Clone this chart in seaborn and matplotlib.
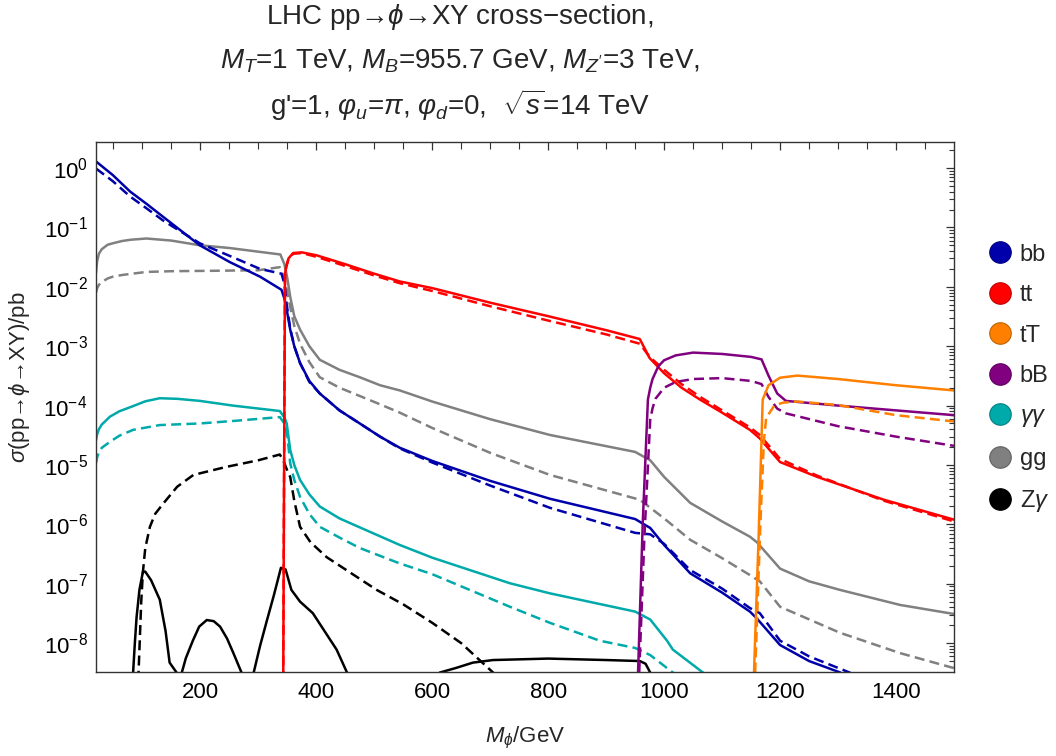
import matplotlib
matplotlib.use('Agg')
import matplotlib.pyplot as plt
import matplotlib.colors as mcolors
import numpy as np
import pandas as pd
import seaborn as sns
from matplotlib.lines import Line2D
from matplotlib.ticker import FixedLocator, LogLocator, NullFormatter

# ---- data (M_phi in GeV, sigma in pb) ----
BB_M = [20, 49, 79, 107, 136, 199, 251, 303, 340, 345, 349, 355, 362, 372, 388, 406, 440, 475, 510,
        544, 600, 700, 803, 950, 976, 1000, 1045, 1100, 1148, 1160, 1200, 1250, 1304, 1320]
BB_SOLID = [1.29, 0.76, 0.40, 0.25, 0.15, 0.050, 0.026, 0.0148, 0.0089, 0.0063, 0.0041, 0.0019,
            0.0010, 5.2e-4, 2.6e-4, 1.6e-4, 8.3e-5, 5.0e-5, 3.0e-5, 1.95e-5, 1.17e-5, 5.4e-6,
            2.7e-6, 1.23e-6, 8.7e-7, 4.5e-7, 1.5e-7, 7.1e-8, 3.4e-8, 2.6e-8, 9.3e-9, 5.0e-9,
            3.2e-9, 2.5e-9]
BB_DASH_M = [20, 49, 79, 107, 136, 199, 251, 303, 340, 345, 349, 355, 362, 372, 388, 406, 440, 475,
             510, 544, 600, 700, 803, 950, 976, 1000, 1045, 1100, 1148, 1165, 1200, 1250, 1320, 1340]
BB_DASH = [0.98, 0.60, 0.33, 0.21, 0.13, 0.054, 0.033, 0.020, 0.0166, 0.0112, 0.0050, 0.0020,
           0.0010, 5.2e-4, 2.5e-4, 1.6e-4, 8.3e-5, 5.0e-5, 3.0e-5, 1.9e-5, 1.1e-5, 4.5e-6,
           1.9e-6, 7.2e-7, 6.8e-7, 4.7e-7, 1.7e-7, 8.3e-8, 3.9e-8, 3.2e-8, 1.1e-8, 6.0e-9,
           3.2e-9, 2.5e-9]

TT_M = [341, 343, 344.5, 346, 348, 352, 360, 375, 400, 450, 500, 544, 600, 700, 800, 900, 958,
        975, 1000, 1030, 1062, 1100, 1148, 1165, 1200, 1264, 1379, 1500]
TT_SOLID = [1e-10, 3.2e-9, 1e-5, 0.0158, 0.022, 0.030, 0.037, 0.038, 0.034, 0.024, 0.0166,
            0.0123, 0.0095, 0.0054, 0.0032, 0.00186, 0.00132, 6.3e-4, 3.5e-4, 2.0e-4, 1.26e-4,
            7.6e-5, 3.9e-5, 2.8e-5, 1.12e-5, 6.3e-6, 2.6e-6, 1.2e-6]
TT_DASH = [1e-10, 3.2e-9, 1e-5, 0.0151, 0.021, 0.029, 0.036, 0.037, 0.032, 0.0224, 0.0155,
           0.0115, 0.0085, 0.0047, 0.0027, 0.00158, 0.0011, 6.6e-4, 4.0e-4, 2.3e-4, 1.4e-4,
           8.3e-5, 4.3e-5, 3.2e-5, 1.26e-5, 6.6e-6, 2.5e-6, 1.12e-6]

TBIG_M = [1155, 1163, 1170, 1180, 1200, 1230, 1300, 1400, 1500]
TBIG_SOLID = [3.2e-9, 6.3e-7, 1.26e-4, 2.2e-4, 2.95e-4, 3.2e-4, 2.8e-4, 2.2e-4, 1.8e-4]
TBIG_DASH_M = [1157, 1166, 1172, 1176, 1190, 1205, 1230, 1300, 1400, 1500]
TBIG_DASH = [3.2e-9, 1e-6, 2.5e-5, 6.2e-5, 1.0e-4, 1.12e-4, 1.17e-4, 1.02e-4, 6.9e-5, 5.4e-5]

BBIG_M = [955, 963, 972, 976, 980, 990, 1000, 1020, 1050, 1100, 1150, 1168, 1180, 1195, 1210, 1300,
          1400, 1500]
BBIG_SOLID = [3.2e-9, 1e-6, 1.26e-4, 2.0e-4, 2.8e-4, 4.6e-4, 5.8e-4, 7.0e-4, 7.8e-4, 7.4e-4,
              6.6e-4, 6.0e-4, 3.2e-4, 1.6e-4, 1.2e-4, 1.0e-4, 8.3e-5, 6.9e-5]
BBIG_DASH_M = [957, 966, 976, 980, 985, 1000, 1020, 1050, 1100, 1150, 1168, 1180, 1195, 1210, 1300,
               1400, 1500]
BBIG_DASH = [3.2e-9, 6.3e-7, 5.8e-5, 9.0e-5, 1.3e-4, 2.0e-4, 2.5e-4, 2.8e-4, 2.9e-4, 2.6e-4,
             2.3e-4, 1.4e-4, 8.9e-5, 7.4e-5, 4.5e-5, 3.0e-5, 2.1e-5]

AA_M = [20, 22, 25, 30, 44, 60, 84, 105, 130, 160, 199, 256, 337, 345, 349, 355, 362, 372, 388, 406,
        440, 475, 510, 544, 600, 734, 803, 950, 976, 1005, 1015, 1067, 1080]
AA_SOLID = [2.6e-5, 3.3e-5, 4.0e-5, 4.8e-5, 6.5e-5, 8.0e-5, 9.8e-5, 1.18e-4, 1.33e-4, 1.3e-4,
            1.2e-4, 1.0e-4, 8.1e-5, 6.3e-5, 5.0e-5, 1.8e-5, 1.0e-5, 5.6e-6, 3.2e-6, 2.0e-6,
            1.26e-6, 8.9e-7, 6.3e-7, 4.5e-7, 2.75e-7, 1.02e-7, 6.9e-8, 3.4e-8, 2.5e-8, 1.1e-8,
            7.8e-9, 3.2e-9, 2.5e-9]
AA_DASH_M = [20, 22, 25, 30, 44, 60, 84, 130, 199, 256, 337, 345, 349, 355, 362, 372, 388, 406, 440,
             475, 510, 544, 600, 734, 803, 889, 950, 976, 1015, 1030]
AA_DASH = [1.07e-5, 1.35e-5, 1.65e-5, 1.95e-5, 2.45e-5, 3.1e-5, 3.9e-5, 4.7e-5, 5.0e-5, 5.5e-5,
           6.4e-5, 5.0e-5, 3.9e-5, 1.07e-5, 5.6e-6, 2.9e-6, 1.5e-6, 9.1e-7, 6.0e-7, 4.0e-7,
           2.95e-7, 2.2e-7, 1.45e-7, 4.1e-8, 2.2e-8, 1.1e-8, 8.3e-9, 6.3e-9, 3.2e-9, 2.5e-9]

GG_M = [20, 22, 25, 30, 40, 49, 65, 80, 107, 150, 199, 250, 300, 338, 345, 350, 355, 362, 372, 388,
        406, 440, 475, 510, 544, 600, 700, 803, 950, 976, 1000, 1045, 1100, 1148, 1160, 1200, 1250,
        1303, 1407, 1500]
GG_SOLID = [0.017, 0.027, 0.036, 0.043, 0.051, 0.054, 0.059, 0.062, 0.065, 0.060, 0.050, 0.045,
            0.039, 0.035, 0.024, 0.014, 0.0068, 0.0032, 0.0019, 0.0010, 5.9e-4, 4.0e-4, 3.0e-4,
            2.2e-4, 1.8e-4, 1.17e-4, 5.9e-5, 3.2e-5, 1.66e-5, 1.2e-5, 6.3e-6, 2.3e-6, 1.12e-6,
            6.2e-7, 5.0e-7, 1.8e-7, 1.1e-7, 7.9e-8, 4.4e-8, 3.1e-8]
GG_DASH_M = [20, 22, 25, 30, 40, 49, 65, 80, 107, 150, 222, 300, 337, 345, 350, 355, 362, 372, 388,
             406, 440, 475, 510, 544, 600, 700, 803, 958, 1000, 1045, 1100, 1148, 1165, 1200, 1303,
             1407, 1500]
GG_DASH = [0.008, 0.0095, 0.0108, 0.012, 0.0138, 0.0148, 0.0158, 0.0165, 0.0178, 0.0183, 0.0186,
           0.019, 0.0214, 0.014, 0.008, 0.0046, 0.0022, 0.0011, 5.4e-4, 3.0e-4, 2.0e-4, 1.45e-4,
           1.05e-4, 7.6e-5, 4.2e-5, 1.6e-5, 6.8e-6, 2.6e-6, 1.26e-6, 5.5e-7, 2.7e-7, 1.4e-7,
           1.1e-7, 4.1e-8, 1.5e-8, 6.8e-9, 3.8e-9]

ZA_M = [82, 84, 87, 90, 95, 101, 105, 115, 130, 140, 147, 159, 162, 166, 168, 175, 187, 198, 211,
        223, 234, 246, 257, 271, 275, 288, 292, 303, 315, 327, 339, 347, 357, 372, 394, 435, 453,
        458, 605, 613, 640, 670, 705, 800, 900, 958, 968, 976, 980]
ZA_SOLID = [1e-10, 3.2e-9, 1e-8, 2.75e-8, 8e-8, 1.6e-7, 1.6e-7, 1.15e-7, 5.4e-8, 1.6e-8, 4.7e-9,
            3.2e-9, 1e-10, 1e-10, 3.2e-9, 5.6e-9, 1.1e-8, 1.9e-8, 2.45e-8, 2.35e-8, 1.9e-8, 1.2e-8,
            6.8e-9, 3.2e-9, 1e-10, 1e-10, 3.2e-9, 9e-9, 2.45e-8, 6.5e-8, 1.86e-7, 1.74e-7, 7.9e-8,
            5.0e-8, 3.2e-8, 7.8e-9, 3.2e-9, 1e-10, 1e-10, 3.2e-9, 3.8e-9, 4.7e-9, 5.2e-9, 5.5e-9,
            5.2e-9, 5.0e-9, 4.5e-9, 3.2e-9, 1e-10]
ZA_DASH_M = [90, 93, 96, 98, 101, 105, 113, 122, 136, 160, 188, 245, 300, 337, 343, 350, 355, 362,
             372, 390, 418, 504, 550, 600, 650, 705, 720]
ZA_DASH = [1e-10, 2.5e-9, 1.5e-8, 5e-8, 1.6e-7, 4e-7, 9.1e-7, 1.5e-6, 2.24e-6, 4.3e-6, 6.8e-6,
           9.3e-6, 1.2e-5, 1.5e-5, 1.2e-5, 8e-6, 6.3e-6, 2.5e-6, 9.1e-7, 5.0e-7, 2.8e-7, 7.9e-8,
           4.5e-8, 2.2e-8, 1.0e-8, 3.2e-9, 1e-10]

X_TICKS = [200, 400, 600, 800, 1000, 1200, 1400]
X_MINOR = list(range(50, 1500, 50))
Y_DECADES = [1e-8, 1e-7, 1e-6, 1e-5, 1e-4, 1e-3, 1e-2, 1e-1, 1e0]

CHANNELS = ['bb', 'tt', 'tT', 'bB', 'γγ', 'gg', 'Zγ']
LEGEND_LABELS = ['bb', 'tt', 'tT', 'bB', r'$\gamma\gamma$', 'gg', r'Z$\gamma$']
COLORS = {'bb': '#0000AA', 'tt': '#FF0000', 'tT': '#FF8000', 'bB': '#800080',
          'γγ': '#00AAAA', 'gg': '#808080', 'Zγ': '#000000'}
DRAW_ORDER = ['Zγ', 'gg', 'γγ', 'bb', 'tt', 'bB', 'tT']

SERIES = {
    'bb': ((BB_M, BB_SOLID), (BB_DASH_M, BB_DASH)),
    'tt': ((TT_M, TT_SOLID), (TT_M, TT_DASH)),
    'tT': ((TBIG_M, TBIG_SOLID), (TBIG_DASH_M, TBIG_DASH)),
    'bB': ((BBIG_M, BBIG_SOLID), (BBIG_DASH_M, BBIG_DASH)),
    'γγ': ((AA_M, AA_SOLID), (AA_DASH_M, AA_DASH)),
    'gg': ((GG_M, GG_SOLID), (GG_DASH_M, GG_DASH)),
    'Zγ': ((ZA_M, ZA_SOLID), (ZA_DASH_M, ZA_DASH)),
}


def long_table():
    rows = []
    for ch, (solid, dashed) in SERIES.items():
        for variant, (ms, sig) in (('solid', solid), ('dashed', dashed)):
            for m, s in zip(ms, sig):
                rows.append({'M': m, 'sigma': s, 'channel': ch, 'variant': variant})
    return pd.DataFrame(rows)


sns.set_theme(style='white')
plt.rcParams['font.family'] = ['Liberation Sans', 'DejaVu Sans']
plt.rcParams['mathtext.fontset'] = 'custom'
plt.rcParams['mathtext.rm'] = 'Liberation Sans'
plt.rcParams['mathtext.it'] = 'Liberation Sans:italic'
plt.rcParams['mathtext.bf'] = 'Liberation Sans:bold'
plt.rcParams['font.size'] = 16

df = long_table()

fig = plt.figure(figsize=(10.56, 7.56), dpi=100)
ax = fig.add_axes([96 / 1056, 1 - 672 / 756, 858 / 1056, 530 / 756])
ax.set_yscale('log')

for ch in DRAW_ORDER:
    sns.lineplot(
        data=df[df['channel'] == ch], x='M', y='sigma',
        style='variant', style_order=['dashed', 'solid'],
        dashes={'solid': '', 'dashed': (4.0, 2.1)},
        color=COLORS[ch], linewidth=1.8, estimator=None, legend=False, ax=ax,
    )

ax.set_xlim(20, 1500)
ax.set_ylim(3.27e-9, 2.74)
ax.xaxis.set_major_locator(FixedLocator(X_TICKS))
ax.xaxis.set_minor_locator(FixedLocator(X_MINOR))
ax.yaxis.set_major_locator(FixedLocator(Y_DECADES))
ax.yaxis.set_minor_locator(LogLocator(base=10, subs=np.arange(2, 10), numticks=30))
ax.yaxis.set_minor_formatter(NullFormatter())

frame = '#333333'
for sp in ax.spines.values():
    sp.set_color(frame)
    sp.set_linewidth(1.0)
ax.tick_params(which='both', direction='in', top=True, right=True, colors=frame,
               labelcolor='black', labelsize=16)
ax.tick_params(which='major', length=6, width=0.9)
ax.tick_params(which='minor', length=3.5, width=0.8)
ax.tick_params(axis='x', which='minor', length=5)
ax.tick_params(axis='x', pad=7)
ax.tick_params(axis='y', pad=6)

ax.set_xlabel(r'$M_\phi$/GeV', fontsize=16, va='center')
ax.set_ylabel(r'$\sigma$(pp→$\phi$→XY)/pb', fontsize=16, va='center')
ax.xaxis.set_label_coords(0.5, -(738 - 672) / 530)
ax.yaxis.set_label_coords(-(96 - 20) / 858, (672 - 377) / 530)

title_lines = [
    r'LHC pp→$\phi$→XY cross−section,',
    r'$M_T$=1 TeV, $M_B$=955.7 GeV, $M_{Z^\prime}$=3 TeV,',
    r"g'=1, $\varphi_u$=$\pi$, $\varphi_d$=0,  $\sqrt{s}$=14 TeV",
]
for line, ypx in zip(title_lines, [17, 61, 105]):
    fig.text(460 / 1056, 1 - ypx / 756, line, ha='center', va='center', fontsize=20)

handles = [
    Line2D([], [], linestyle='none', marker='o', markersize=15.5,
           markerfacecolor=COLORS[ch],
           markeredgecolor=tuple(0.75 * c for c in mcolors.to_rgb(COLORS[ch])),
           markeredgewidth=0.8)
    for ch in CHANNELS
]
fig.legend(handles, LEGEND_LABELS, loc='center left', bbox_to_anchor=(988 / 1056, 1 - 379 / 756),
           frameon=False, fontsize=17, handlelength=1.0, handletextpad=0.35,
           labelspacing=0.78, borderpad=0, borderaxespad=0)

fig.savefig('out.png', dpi=100)
